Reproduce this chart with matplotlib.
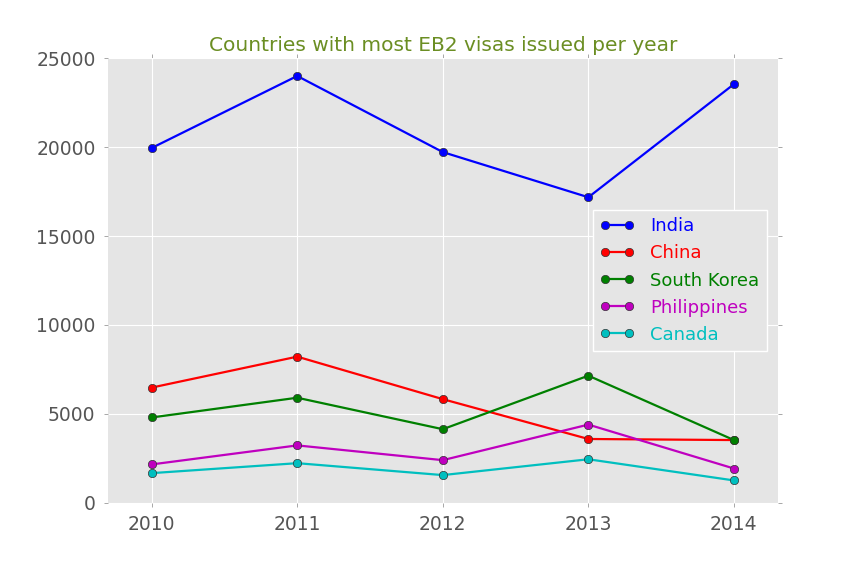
import numpy as np
import matplotlib
matplotlib.use('Agg')
import matplotlib.pyplot as plt

years = [2010, 2011, 2012, 2013, 2014]
india = [19950, 24000, 19720, 17180, 23540]
china = [6480, 8220, 5830, 3590, 3530]
south_korea = [4800, 5910, 4140, 7150, 3530]
philippines = [2160, 3230, 2400, 4400, 1930]
canada = [1670, 2230, 1560, 2450, 1260]

series = [('India', india, 'b'), ('China', china, 'r'),
          ('South Korea', south_korea, 'g'), ('Philippines', philippines, 'm'),
          ('Canada', canada, 'c')]

fig = plt.figure(figsize=(8.64, 5.76), dpi=100)
ax = fig.add_axes([0.125, 0.127, 0.775, 0.772])
ax.set_facecolor('#E5E5E5')
for s in ax.spines.values():
    s.set_visible(False)
ax.grid(True, color='white', linewidth=0.8)
ax.set_axisbelow(True)

for name, vals, c in series:
    ax.plot(years, vals, '-o', color=c, label=name, linewidth=1.6,
            markersize=6, markeredgecolor='#333333', markeredgewidth=0.5)

ax.set_xlim(2009.7, 2014.3)
ax.set_ylim(0, 25000)
ax.set_xticks(years)
ax.set_xticklabels([str(y) for y in years])
ax.set_yticks(range(0, 25001, 5000))
ax.tick_params(direction='out', color='#999999', labelcolor='#555555',
               labelsize=13.5, length=3, width=0.6, pad=6,
               top=True, right=True)

ax.set_title('Countries with most EB2 visas issued per year', color='olivedrab',
             fontsize=14.5, pad=5)

leg = ax.legend(loc='center right', fontsize=13, numpoints=2, handlelength=1.9,
                handletextpad=0.9, fancybox=False, framealpha=1, borderaxespad=0.6)
leg.get_frame().set_facecolor('#E5E5E5')
leg.get_frame().set_edgecolor('white')
for txt, (_, _, c) in zip(leg.get_texts(), series):
    txt.set_color(c)

plt.savefig('out.png', dpi=100)
